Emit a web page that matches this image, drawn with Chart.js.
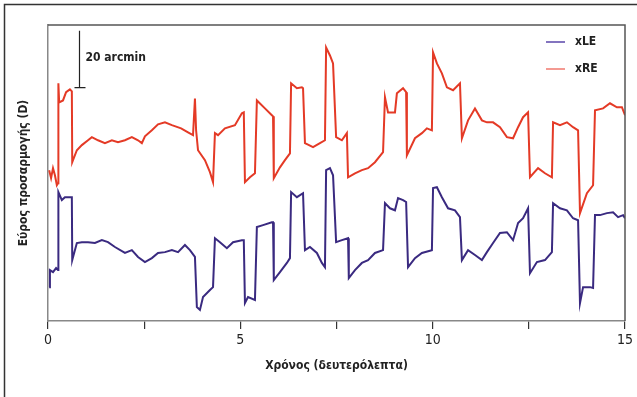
<!DOCTYPE html>
<html>
<head>
<meta charset="utf-8">
<style>
  html, body { margin: 0; padding: 0; background: #fff; }
  #wrap { width: 637px; height: 397px; position: relative; }
</style>
<script src="https://cdn.jsdelivr.net/npm/chart.js@4.4.0/dist/chart.umd.min.js"></script>
</head>
<body>
<div id="wrap"><canvas id="chart"></canvas></div>
<script>
// time in seconds, position in arcmin (arbitrary zero)
const reTime = [0.03, 0.08, 0.13, 0.18, 0.23, 0.26, 0.27, 0.29, 0.39, 0.47, 0.57, 0.62, 0.63, 0.75, 0.88,
  1.04, 1.14, 1.30, 1.48, 1.66, 1.82, 2.00, 2.18, 2.34, 2.44, 2.52, 2.70, 2.86, 3.04, 3.22, 3.46, 3.64,
  3.77, 3.82, 3.85, 3.90, 4.08, 4.21, 4.29, 4.34, 4.42, 4.60, 4.86, 5.04, 5.09, 5.12, 5.25, 5.38, 5.43,
  5.64, 5.82, 5.85, 5.87, 6.03, 6.16, 6.29, 6.32, 6.47, 6.60, 6.63, 6.68, 6.89, 7.07, 7.20, 7.23, 7.33,
  7.41, 7.49, 7.64, 7.77, 7.80, 7.98, 8.16, 8.32, 8.50, 8.71, 8.76, 8.84, 9.02, 9.07, 9.23, 9.31, 9.33,
  9.54, 9.72, 9.85, 9.98, 10.01, 10.11, 10.24, 10.37, 10.53, 10.71, 10.76, 10.92, 11.10, 11.28, 11.41,
  11.57, 11.75, 11.93, 12.09, 12.22, 12.35, 12.48, 12.53, 12.74, 12.92, 13.10, 13.13, 13.31, 13.49,
  13.65, 13.78, 13.83, 14.01, 14.17, 14.22, 14.43, 14.61, 14.79, 14.92, 15.00];
const reVal = [53.0, 50.2, 53.7, 51.2, 47.7, 48.4, 83.5, 76.8, 77.5, 80.4, 81.4, 80.7, 55.8, 60.0, 61.8,
  63.5, 64.6, 63.5, 62.5, 63.5, 62.8, 63.5, 64.6, 63.5, 62.5, 64.9, 67.0, 69.1, 69.8, 68.8, 67.7, 66.3,
  65.3, 78.2, 67.0, 60.0, 56.5, 52.3, 48.8, 66.0, 65.3, 67.7, 68.8, 73.0, 73.3, 48.8, 50.5, 51.9, 77.5,
  74.7, 72.3, 71.9, 50.2, 54.0, 56.5, 58.9, 83.5, 81.8, 82.1, 81.8, 62.5, 61.1, 62.5, 63.5, 96.1, 93.3,
  90.5, 64.6, 63.5, 66.0, 50.5, 51.9, 53.0, 53.7, 55.8, 59.3, 78.6, 73.3, 73.3, 80.0, 81.8, 80.4, 58.2,
  64.2, 66.0, 67.7, 67.0, 94.4, 90.5, 87.0, 82.1, 81.1, 83.5, 64.2, 70.5, 74.7, 70.5, 69.8,
  69.8, 68.1, 64.6, 64.2, 68.1, 71.6, 73.3, 50.5, 53.7, 51.9, 50.5, 69.8, 68.8, 69.8,
  68.1, 67.0, 37.9, 44.9, 47.7, 74.0, 74.7, 76.5, 75.1, 75.1, 72.3];

const leTime = [0.03, 0.05, 0.13, 0.21, 0.26, 0.27, 0.36, 0.44, 0.57, 0.62, 0.63, 0.75, 0.88, 1.04, 1.22,
  1.40, 1.56, 1.74, 2.00, 2.18, 2.34, 2.52, 2.70, 2.86, 3.04, 3.22, 3.38, 3.56, 3.69, 3.82, 3.87, 3.95,
  4.03, 4.21, 4.29, 4.34, 4.47, 4.65, 4.81, 5.04, 5.09, 5.12, 5.20, 5.38, 5.43, 5.59, 5.82, 5.85, 5.87,
  6.03, 6.21, 6.29, 6.32, 6.47, 6.63, 6.68, 6.81, 6.99, 7.12, 7.20, 7.23, 7.33, 7.41, 7.49, 7.64, 7.80,
  7.82, 7.98, 8.16, 8.32, 8.50, 8.71, 8.76, 8.89, 9.02, 9.10, 9.23, 9.31, 9.36, 9.54, 9.72, 9.98, 10.01,
  10.11, 10.24, 10.40, 10.58, 10.71, 10.76, 10.92, 11.10, 11.28, 11.41, 11.57, 11.75, 11.93, 12.09,
  12.22, 12.35, 12.48, 12.53, 12.71, 12.92, 13.10, 13.13, 13.31, 13.49, 13.65, 13.78, 13.83, 13.91,
  14.09, 14.17, 14.22, 14.35, 14.53, 14.69, 14.82, 14.95, 15.00];
const leVal = [11.9, 17.9, 17.2, 18.6, 17.9, 45.3, 42.5, 43.5, 43.5, 43.5, 21.4, 27.4, 27.7, 27.7, 27.4,
  28.4, 27.7, 26.0, 23.9, 24.9, 22.5, 20.7, 22.1, 23.9, 24.2, 24.9, 24.2, 26.7, 24.9, 22.5, 4.9, 3.9,
  8.4, 10.9, 11.9, 29.1, 27.7, 25.6, 27.7, 28.4, 28.4, 6.3, 8.4, 7.4, 33.0, 33.7, 34.7, 34.7, 14.4,
  17.2, 20.4, 22.1, 45.3, 43.5, 44.9, 24.9, 26.0, 23.9, 20.4, 18.9, 53.0, 53.7, 51.2, 27.7, 28.4, 29.1,
  15.1, 17.9, 20.4, 21.4, 23.9, 24.9, 41.4, 39.6, 38.9, 43.2, 42.5, 41.8, 18.9, 22.1, 23.9, 24.9, 46.7,
  47.0, 43.5, 39.6, 38.9, 36.5, 21.4, 24.9, 23.2, 21.4, 24.2, 27.4, 30.9, 31.2, 28.4,
  34.4, 36.1, 39.6, 16.8, 20.7, 21.4, 24.2, 41.4, 39.6, 38.9, 36.1, 35.4, 6.3, 11.9,
  11.9, 11.6, 37.2, 37.2, 37.9, 38.2, 36.5, 37.2, 36.1];

const xTicks = [0, 5, 10, 15];
const seriesNames = ['xLE', 'xRE'];
const seriesColors = ['rgb(58, 42, 128)', 'rgb(228, 58, 38)'];
const legendColors = ['rgb(90, 70, 170)', 'rgb(240, 120, 110)'];
const scaleBar = { t: 0.8, from: 82, size: 20, label: '20 arcmin' };

const FONT = "'DejaVu Sans Condensed', 'DejaVu Sans', sans-serif";
const INK = '#222';

function points(ts, vs) {
  return ts.map((t, i) => ({ x: t, y: vs[i] }));
}

const decor = {
  id: 'decor',
  beforeDraw(chart) {
    const ctx = chart.ctx;
    ctx.save();
    ctx.strokeStyle = '#333';
    ctx.lineWidth = 1.5;
    ctx.beginPath();
    ctx.moveTo(4.5, chart.height);
    ctx.lineTo(4.5, 4.5);
    ctx.lineTo(chart.width, 4.5);
    ctx.stroke();
    ctx.restore();
  },
  afterDraw(chart) {
    const { ctx, chartArea: a, scales: { x, y } } = chart;
    ctx.save();
    // top and right frame of the plot
    ctx.strokeStyle = '#555';
    ctx.lineWidth = 1.5;
    ctx.beginPath();
    ctx.moveTo(a.left, a.top);
    ctx.lineTo(a.right, a.top);
    ctx.lineTo(a.right, a.bottom);
    ctx.stroke();

    // scale bar
    const bx = Math.round(x.getPixelForValue(scaleBar.t)) + 0.5;
    const y0 = y.getPixelForValue(scaleBar.from);
    const y1 = y.getPixelForValue(scaleBar.from + scaleBar.size);
    ctx.strokeStyle = '#222';
    ctx.lineWidth = 1.2;
    ctx.beginPath();
    ctx.moveTo(bx, y1);
    ctx.lineTo(bx, y0);
    ctx.moveTo(bx - 5, y0);
    ctx.lineTo(bx + 6, y0);
    ctx.stroke();
    ctx.fillStyle = INK;
    ctx.font = 'bold 12px ' + FONT;
    ctx.textBaseline = 'middle';
    ctx.fillText(scaleBar.label, bx + 6, (y0 + y1) / 2 - 1);

    // legend
    seriesNames.forEach((name, i) => {
      const ly = 42 + i * 27;
      ctx.strokeStyle = legendColors[i];
      ctx.lineWidth = 1.5;
      ctx.beginPath();
      ctx.moveTo(a.right - 79, ly);
      ctx.lineTo(a.right - 60, ly);
      ctx.stroke();
      ctx.fillText(name, a.right - 50, ly);
    });
    ctx.restore();
  }
};

new Chart(document.getElementById('chart'), {
  type: 'line',
  data: {
    datasets: [
      {
        label: seriesNames[1],
        data: points(reTime, reVal),
        borderColor: seriesColors[1],
        borderWidth: 2,
        pointRadius: 0,
        tension: 0,
      },
      {
        label: seriesNames[0],
        data: points(leTime, leVal),
        borderColor: seriesColors[0],
        borderWidth: 2,
        pointRadius: 0,
        tension: 0,
      },
    ],
  },
  options: {
    responsive: true,
    maintainAspectRatio: false,
    animation: false,
    devicePixelRatio: 1,
    layout: { padding: { top: 25, right: 12, left: 0, bottom: 0 } },
    plugins: {
      legend: { display: false },
      tooltip: { enabled: false },
    },
    scales: {
      x: {
        type: 'linear',
        min: 0,
        max: 15,
        afterBuildTicks: (s) => {
          s.ticks = [0, 2.5, 5, 7.5, 10, 12.5, 15].map((v) => ({ value: v }));
        },
        ticks: {
          autoSkip: false,
          maxRotation: 0,
          padding: 3,
          color: INK,
          font: { family: FONT, size: 14 },
          callback: (v) => (xTicks.includes(v) ? String(v) : ''),
        },
        grid: { drawOnChartArea: false, drawTicks: true, tickLength: 8, color: '#333', lineWidth: 1.2 },
        border: { display: true, color: '#888', width: 1.5, dash: [2, 1] },
        title: {
          display: true,
          text: 'Χρόνος (δευτερόλεπτα)',
          color: INK,
          font: { family: FONT, size: 12, weight: 'bold' },
          padding: { top: 0, bottom: 24 },
        },
        afterFit: (s) => { s.height = 76; },
      },
      y: {
        min: 0,
        max: 104,
        ticks: { display: false },
        grid: { display: false },
        border: { display: true, color: '#888', width: 1.5, dash: [2, 1] },
        title: {
          display: true,
          text: 'Εύρος προσαρμογής (D)',
          color: INK,
          font: { family: FONT, size: 12, weight: 'bold' },
          padding: { top: 17, bottom: 0 },
        },
        afterFit: (s) => { s.width = 48; },
      },
    },
  },
  plugins: [decor],
});
</script>
</body>
</html>
